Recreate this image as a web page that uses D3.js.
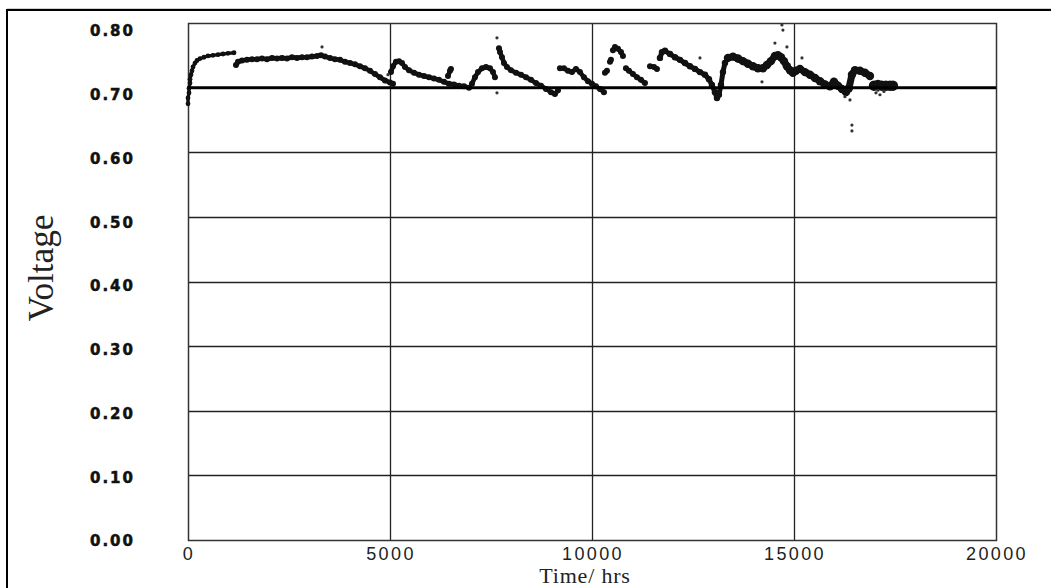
<!DOCTYPE html>
<html>
<head>
<meta charset="utf-8">
<script src="https://cdn.jsdelivr.net/npm/d3@7"></script>
<style>
  html, body { margin: 0; padding: 0; background: #fff; }
  svg { display: block; }
</style>
</head>
<body>
<svg id="chart" width="1051" height="588"></svg>
<script>
// Axis ticks
const hourTicks = [0, 5000, 10000, 15000, 20000];
const voltTicks = [0.0, 0.1, 0.2, 0.3, 0.4, 0.5, 0.6, 0.7, 0.8];
const refVoltage = 0.70;

// Cell voltage record, [hours, volts], one array per continuous run of readings
const startup = [[0,0.675],[0,0.684],[25,0.692],[25,0.699],[50,0.707],[50,0.713],[74,0.720],[99,0.726],[124,0.732],[173,0.738],[223,0.742],[297,0.745],[396,0.747],[495,0.749],[619,0.750],[743,0.751],[866,0.752],[990,0.753],[1139,0.754]];
const run1 = [[1188,0.735],[1238,0.740],[1337,0.742],[1460,0.743],[1584,0.744],[1708,0.744],[1832,0.745],[1955,0.744],[2079,0.746],[2203,0.745],[2327,0.746],[2450,0.745],[2574,0.747],[2698,0.746],[2822,0.747],[2945,0.747],[3069,0.748],[3193,0.749],[3292,0.750],[3391,0.748],[3515,0.746],[3638,0.744],[3762,0.743],[3886,0.740],[4010,0.738],[4133,0.736],[4257,0.733],[4381,0.730],[4505,0.726],[4628,0.721],[4752,0.716],[4876,0.711],[5000,0.708],[5074,0.706]];
const run2 = [[5024,0.724],[5074,0.733],[5148,0.740],[5222,0.741],[5297,0.738],[5371,0.732],[5470,0.727],[5594,0.723],[5717,0.720],[5841,0.718],[5965,0.716],[6089,0.714],[6212,0.712],[6336,0.709],[6460,0.706],[6584,0.705],[6707,0.703],[6831,0.702],[6955,0.700]];
const run3 = [[6435,0.718],[6485,0.726],[6509,0.729]];
const run4 = [[7029,0.706],[7103,0.716],[7178,0.724],[7277,0.730],[7376,0.732],[7475,0.730],[7549,0.724],[7598,0.716]];
const run5 = [[7697,0.761],[7722,0.755],[7772,0.747],[7821,0.738],[7895,0.732],[7994,0.727],[8118,0.723],[8242,0.720],[8366,0.716],[8489,0.712],[8613,0.707],[8737,0.703],[8861,0.698],[8984,0.693],[9083,0.690],[9158,0.696]];
const run6 = [[9207,0.730],[9306,0.730],[9405,0.726],[9504,0.724],[9603,0.729],[9702,0.724],[9801,0.716],[9900,0.710],[9999,0.706],[10098,0.702],[10197,0.698],[10296,0.693]];
const run7 = [[10321,0.723],[10370,0.726]];
const run8 = [[10445,0.740],[10469,0.743]];
const run9 = [[10519,0.758],[10568,0.763],[10643,0.760],[10717,0.755],[10766,0.749]];
const run10 = [[10840,0.730],[10915,0.726],[11014,0.721],[11113,0.716],[11212,0.712],[11311,0.707]];
const run11 = [[11435,0.733],[11534,0.732],[11608,0.729]];
const run12 = [[11682,0.746],[11732,0.755],[11806,0.757],[11930,0.752],[12053,0.747],[12177,0.743],[12301,0.738],[12425,0.733],[12548,0.729],[12672,0.724],[12796,0.720],[12895,0.713],[12969,0.704],[13043,0.693],[13093,0.684],[13142,0.689],[13192,0.704],[13241,0.724],[13291,0.738],[13365,0.746]];
const run13 = [[13365,0.746],[13489,0.748],[13613,0.745],[13736,0.741],[13860,0.737],[13984,0.733],[14108,0.730],[14231,0.730],[14330,0.735],[14429,0.741],[14528,0.749],[14603,0.750],[14677,0.747],[14751,0.741],[14825,0.733],[14900,0.727],[14974,0.723],[15048,0.726],[15147,0.729],[15271,0.724],[15395,0.720],[15519,0.715],[15642,0.710],[15766,0.705],[15890,0.702],[15989,0.709],[16088,0.703],[16187,0.698],[16286,0.693],[16360,0.699],[16434,0.720],[16509,0.727],[16632,0.726],[16756,0.723],[16880,0.718]];
const run14 = [[16979,0.703],[17078,0.704],[17176,0.703],[17275,0.703],[17375,0.703],[17449,0.703]];
const runs = [startup, run1, run2, run3, run4, run5, run6, run7, run8, run9, run10, run11, run12, run13, run14];

// Isolated readings away from the main trace
const strays = [[3317,0.763],[4950,0.720],[7648,0.692],[7648,0.777],[12672,0.746],[14207,0.709],[14528,0.769],[14825,0.763],[14701,0.797],[14726,0.789],[15197,0.746],[16434,0.642],[16434,0.633],[16261,0.686],[16385,0.681],[17029,0.692],[17127,0.689],[17226,0.694],[17078,0.696]];

const svg = d3.select("#chart");

// Plot frame
const plot = { left: 188, top: 23, right: 996, bottom: 540 };
const x = d3.scaleLinear().domain([0, 20000]).range([plot.left, plot.right]);
const y = d3.scaleLinear().domain([0, 0.8]).range([plot.bottom, plot.top]);
// Tick labels sit slightly below their gridlines
const yLabel = d3.scaleLinear().domain([0, 0.8]).range([541, 31]);

// Outer border of the figure
svg.append("line").attr("x1", 7).attr("x2", 1051).attr("y1", 8.5).attr("y2", 8.5)
  .attr("stroke", "#cfcfcf").attr("stroke-width", 1);
svg.append("rect").attr("x", 7).attr("y", 10).attr("width", 1100).attr("height", 650)
  .attr("fill", "none").attr("stroke", "#000").attr("stroke-width", 2);

// Grid
const grid = svg.append("g");
grid.selectAll("line.h").data(voltTicks.filter(v => v > 0 && v < 0.8)).join("line")
  .attr("class", "h")
  .attr("x1", plot.left).attr("x2", plot.right)
  .attr("y1", d => Math.round(y(d)) + 0.5).attr("y2", d => Math.round(y(d)) + 0.5)
  .attr("stroke", "#222").attr("stroke-width", 1.3);
grid.selectAll("line.v").data(hourTicks.filter(t => t > 0 && t < 20000)).join("line")
  .attr("class", "v")
  .attr("x1", d => Math.round(x(d)) + 0.5).attr("x2", d => Math.round(x(d)) + 0.5)
  .attr("y1", plot.top).attr("y2", plot.bottom)
  .attr("stroke", "#222").attr("stroke-width", 1.3);
svg.append("rect")
  .attr("x", plot.left + 0.5).attr("y", plot.top + 0.5)
  .attr("width", plot.right - plot.left).attr("height", plot.bottom - plot.top)
  .attr("fill", "none").attr("stroke", "#333").attr("stroke-width", 1.5);

// Data trace
const bandWidth = [3.4, 4.6, 4.6, 4.6, 4.6, 4.6, 4.6, 4.6, 4.6, 4.6, 4.6, 4.6, 5.0, 7.0, 9.0];
const line = d3.line().x(d => x(d[0])).y(d => y(d[1]));
const trace = svg.append("g").attr("fill", "#111");
runs.forEach((run, i) => {
  trace.append("path").attr("d", line(run))
    .attr("fill", "none").attr("stroke", "#111")
    .attr("stroke-width", bandWidth[i])
    .attr("stroke-linejoin", "round").attr("stroke-linecap", "round");
  trace.selectAll(null).data(run).join("circle")
    .attr("cx", d => x(d[0])).attr("cy", d => y(d[1]))
    .attr("r", bandWidth[i] / 2 + 0.7);
});
trace.selectAll(null).data(strays).join("circle")
  .attr("cx", d => x(d[0])).attr("cy", d => y(d[1]))
  .attr("r", 1.6).attr("fill", "#333");

// Reference level
svg.append("line")
  .attr("x1", plot.left).attr("x2", plot.right)
  .attr("y1", y(refVoltage)).attr("y2", y(refVoltage))
  .attr("stroke", "#000").attr("stroke-width", 2.6);

// Y tick labels
svg.append("g").selectAll("text").data(voltTicks).join("text")
  .attr("x", 135).attr("y", d => yLabel(d)).attr("dy", "0.36em")
  .attr("text-anchor", "end")
  .style("font-family", "'DejaVu Sans', sans-serif").style("font-weight", "bold")
  .style("font-size", "15px").style("letter-spacing", "2px")
  .attr("fill", "#111").attr("stroke", "#111").attr("stroke-width", 0.5)
  .text(d => d.toFixed(2));

// X tick labels
svg.append("g").selectAll("text").data(hourTicks).join("text")
  .attr("x", d => x(d) + 1).attr("y", 560)
  .attr("text-anchor", "middle")
  .style("font-family", "'Liberation Sans', sans-serif")
  .style("font-size", "18px").style("letter-spacing", "2.4px").attr("fill", "#222")
  .text(d => d);

// Axis titles
svg.append("text")
  .attr("x", 585).attr("y", 583)
  .attr("text-anchor", "middle")
  .style("font-family", "'Liberation Serif', serif").style("font-size", "22px")
  .style("letter-spacing", "0.8px")
  .attr("fill", "#222")
  .text("Time/ hrs");
svg.append("text")
  .attr("transform", "translate(53,268) rotate(-90)")
  .attr("text-anchor", "middle")
  .attr("textLength", 107).attr("lengthAdjust", "spacingAndGlyphs")
  .style("font-family", "'Liberation Serif', serif").style("font-size", "36px")
  .attr("fill", "#222")
  .text("Voltage");
</script>
</body>
</html>
